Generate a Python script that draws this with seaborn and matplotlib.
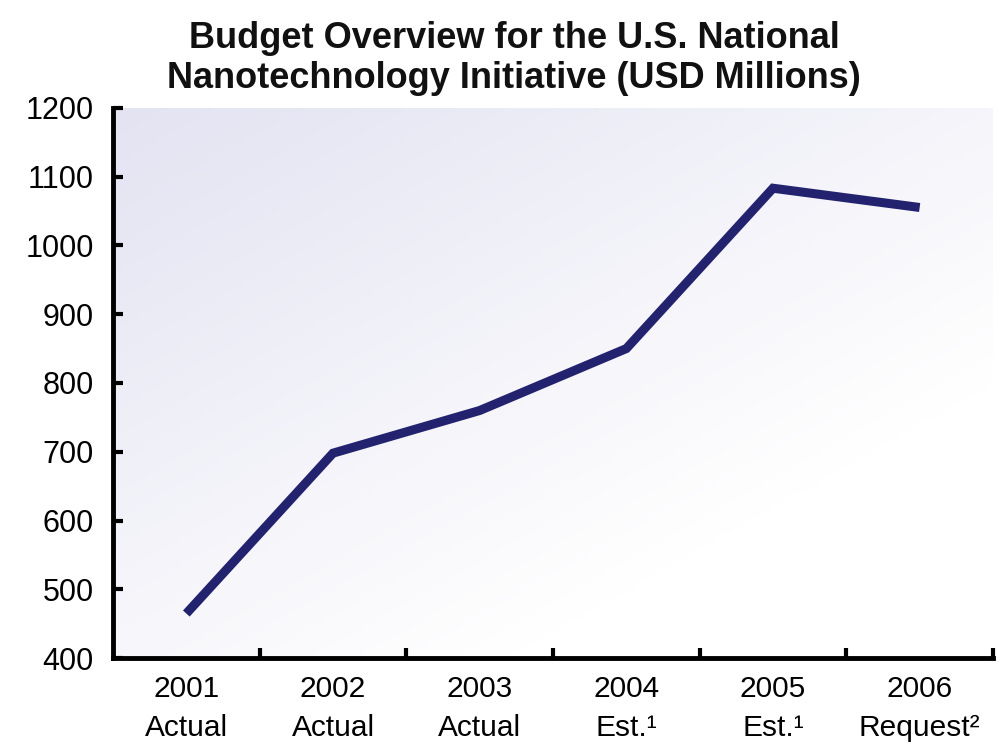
import numpy as np
import pandas as pd
import matplotlib
matplotlib.use("Agg")
import matplotlib.pyplot as plt
import seaborn as sns
from matplotlib.ticker import FixedLocator

years = ["2001", "2002", "2003", "2004", "2005", "2006"]
kinds = ["Actual", "Actual", "Actual", "Est.\u00b9", "Est.\u00b9", "Request\u00b2"]
budget = [465, 698, 760, 850, 1083, 1055]
y_ticks = [400, 500, 600, 700, 800, 900, 1000, 1100, 1200]
title = "Budget Overview for the U.S. National\nNanotechnology Initiative (USD Millions)"

sns.set_theme(style="white")
plt.rcParams["font.family"] = ["Liberation Sans", "DejaVu Sans"]
plt.rcParams["text.color"] = "black"
plt.rcParams["xtick.color"] = "black"
plt.rcParams["ytick.color"] = "black"

fig = plt.figure(figsize=(10, 7.48), dpi=100)
ax = fig.add_axes([0.113, 0.120, 0.880, 0.736])

# gradient background: lavender top-left to white bottom-right
gx, gy = np.meshgrid(np.linspace(0, 1, 200), np.linspace(0, 1, 200))
t = np.clip((gx * 0.9 + gy) / 1.4, 0, 1)
c0 = np.array([0.89, 0.89, 0.95])
c1 = np.array([1.0, 1.0, 1.0])
img = c0[None, None, :] * (1 - t[..., None]) + c1[None, None, :] * t[..., None]
ax.imshow(img, extent=[0, 1, 0, 1], transform=ax.transAxes, aspect="auto", zorder=0, origin="upper")

df = pd.DataFrame({"pos": np.arange(len(years)), "budget": budget})
sns.lineplot(data=df, x="pos", y="budget", ax=ax, color="#22226e", linewidth=6.5, zorder=3,
             solid_joinstyle="miter", solid_capstyle="butt")

ax.set_xlim(-0.5, len(years) - 0.5)
ax.set_ylim(400, 1200)
ax.set_xlabel("")
ax.set_ylabel("")

ax.set_xticks(np.arange(len(years)))
ax.set_xticklabels([f"{y}\n{k}" for y, k in zip(years, kinds)], fontsize=21.5, linespacing=1.5)
ax.xaxis.set_minor_locator(FixedLocator(np.arange(len(years)) + 0.5))
ax.tick_params(axis="x", which="major", length=0, pad=12)
ax.tick_params(axis="x", which="minor", direction="in", length=7, width=3, color="black", bottom=True)

ax.set_yticks(y_ticks)
ax.set_yticklabels([str(v) for v in y_ticks], fontsize=22)
ax.tick_params(axis="y", which="major", direction="in", length=7, width=3, color="black", pad=14, left=True)

for s in ["top", "right"]:
    ax.spines[s].set_visible(False)
for s in ["left", "bottom"]:
    ax.spines[s].set_color("black")
    ax.spines[s].set_linewidth(3.5)

fig.text(0.514, 0.972, title, ha="center", va="top", fontsize=26, fontweight="bold",
         linespacing=1.2, color="#111111")

fig.savefig("out.png", dpi=100, facecolor="white")
